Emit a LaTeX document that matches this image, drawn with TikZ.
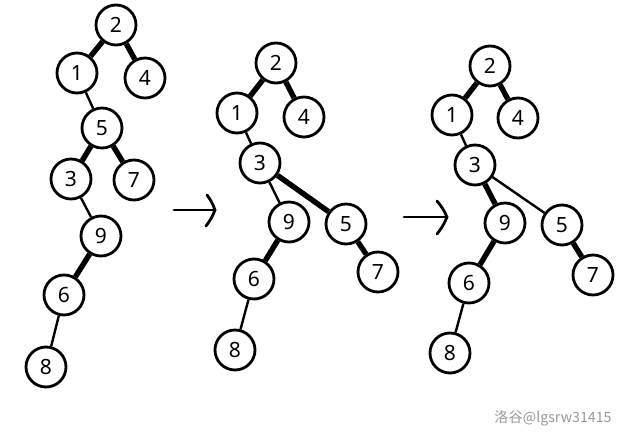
\documentclass[tikz,border=0pt]{standalone}
\usepackage{fontspec}
\setmainfont{Noto Sans}
\newfontfamily\cjk{Noto Sans CJK SC}
\begin{document}
\begin{tikzpicture}[x=1pt,y=-1pt,
  nd/.style={circle,draw,line width=2.8pt,minimum size=40pt,inner sep=0pt,font=\fontsize{21}{21}\selectfont},
  hv/.style={line width=5.4pt},
  lt/.style={line width=2.4pt},
  arr/.style={line width=2.8pt,line join=round,line cap=round}]
\useasboundingbox (0,0) rectangle (625,438);
% tree 1
\node[nd] (a2) at (116,25) {2};
\node[nd] (a1) at (77,73) {1};
\node[nd] (a4) at (145,78) {4};
\node[nd] (a5) at (102,128) {5};
\node[nd] (a3) at (71,179) {3};
\node[nd] (a7) at (134,180) {7};
\node[nd] (a9) at (101,236) {9};
\node[nd] (a6) at (64,295) {6};
\node[nd] (a8) at (46,367) {8};
\draw[hv] (a2) -- (a1);
\draw[hv] (a2) -- (a4);
\draw[lt] (a1) -- (a5);
\draw[hv] (a5) -- (a3);
\draw[hv] (a5) -- (a7);
\draw[lt] (a3) -- (a9);
\draw[hv] (a9) -- (a6);
\draw[lt] (a6) -- (a8);
% arrow 1
\coordinate (p1) at (174,210);
\coordinate (q1) at (215,210);
\coordinate (u1) at (207,195);
\coordinate (d1) at (206,226);
\draw[arr] (p1) -- (q1);
\draw[arr] (u1) to[bend left=8] (q1) to[bend left=8] (d1);
% tree 2
\node[nd] (b2) at (276,63) {2};
\node[nd] (b1) at (237,113) {1};
\node[nd] (b4) at (304,117) {4};
\node[nd] (b3) at (260,163) {3};
\node[nd] (b9) at (289,222) {9};
\node[nd] (b5) at (346,224) {5};
\node[nd] (b7) at (378,272) {7};
\node[nd] (b6) at (254,279) {6};
\node[nd] (b8) at (235,350) {8};
\draw[hv] (b2) -- (b1);
\draw[hv] (b2) -- (b4);
\draw[lt] (b1) -- (b3);
\draw[lt] (b3) -- (b9);
\draw[hv] (b3) -- (b5);
\draw[hv] (b9) -- (b6);
\draw[hv] (b5) -- (b7);
\draw[lt] (b6) -- (b8);
% arrow 2
\coordinate (p2) at (404,217);
\coordinate (q2) at (447,217);
\coordinate (u2) at (437,201);
\coordinate (d2) at (437,234);
\draw[arr] (p2) -- (q2);
\draw[arr] (u2) to[bend left=8] (q2) to[bend left=8] (d2);
% tree 3
\node[nd] (c2) at (490,66) {2};
\node[nd] (c1) at (452,115) {1};
\node[nd] (c4) at (518,118) {4};
\node[nd] (c3) at (475,165) {3};
\node[nd] (c9) at (505,223) {9};
\node[nd] (c5) at (562,225) {5};
\node[nd] (c7) at (593,275) {7};
\node[nd] (c6) at (469,283) {6};
\node[nd] (c8) at (450,353) {8};
\draw[hv] (c2) -- (c1);
\draw[hv] (c2) -- (c4);
\draw[lt] (c1) -- (c3);
\draw[hv] (c3) -- (c9);
\draw[lt] (c3) -- (c5);
\draw[hv] (c9) -- (c6);
\draw[hv] (c5) -- (c7);
\draw[lt] (c6) -- (c8);
% watermark
\node[text=black!40,font=\cjk\fontsize{14.2}{14.2}\selectfont,inner sep=0pt] (wm) at (553,418) {洛谷@lgsrw31415};
\end{tikzpicture}
\end{document}
